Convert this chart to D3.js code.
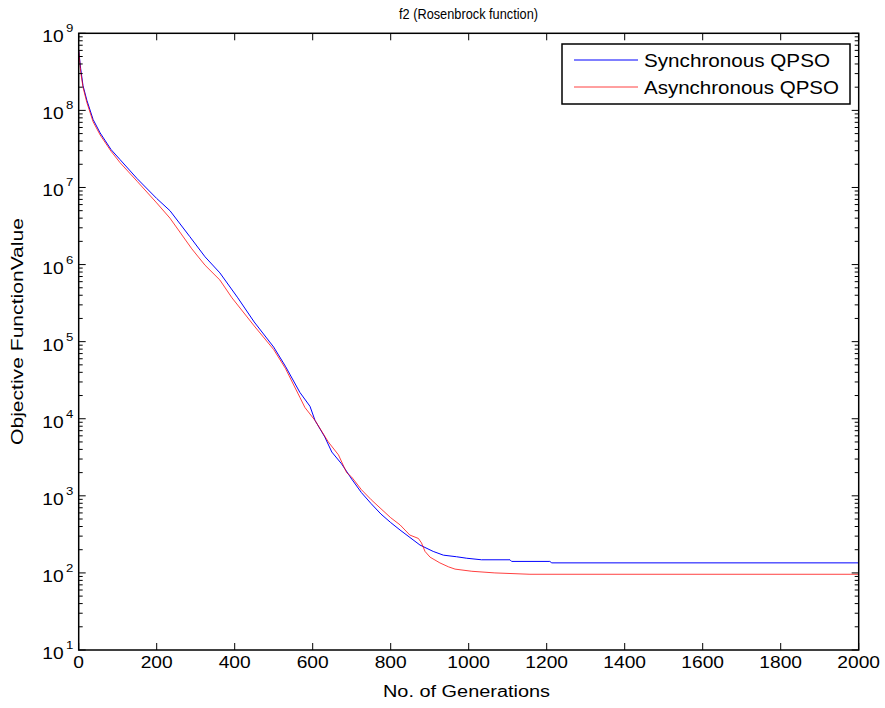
<!DOCTYPE html>
<html>
<head>
<meta charset="utf-8">
<script src="https://cdn.jsdelivr.net/npm/d3@7"></script>
<style>
  html, body { margin: 0; padding: 0; background: #fff; }
  svg { display: block; font-family: "Liberation Sans", Arial, sans-serif; }
</style>
</head>
<body>
<svg id="chart" width="885" height="708"></svg>
<script>
// Best objective value found so far, per generation (log-scale y)
const syncGen = [0, 5, 11, 21, 37, 55, 83, 106, 150, 200, 234, 285, 324, 362, 408, 450, 500, 530, 567, 593, 606, 631, 649, 674, 700, 725, 750, 775, 800, 824, 875, 909, 935, 969, 995, 1033, 1106, 1110, 1208, 1213, 2000];
const syncVal = [6.0e8, 3.5e8, 2.1e8, 1.35e8, 7.6e7, 5.1e7, 3.1e7, 2.3e7, 1.3e7, 7.2e6, 5.0e6, 2.3e6, 1.26e6, 7.8e5, 3.7e5, 1.8e5, 8.5e4, 4.8e4, 2.2e4, 1.45e4, 9.5e3, 5.8e3, 3.7e3, 2.6e3, 1.65e3, 1.1e3, 790, 580, 450, 360, 230, 190, 170, 162, 155, 148, 148, 141, 141, 135, 135];

const asyncGen = [0, 5, 11, 21, 37, 55, 83, 106, 150, 200, 234, 290, 324, 362, 393, 450, 500, 530, 567, 580, 606, 640, 666, 687, 700, 725, 750, 775, 800, 824, 849, 871, 879, 888, 901, 926, 948, 965, 1008, 1067, 1157, 2000];
const asyncVal = [6.0e8, 3.2e8, 2.0e8, 1.26e8, 7.1e7, 4.8e7, 2.95e7, 2.1e7, 1.2e7, 6.3e6, 4.0e6, 1.6e6, 9.8e5, 6.3e5, 3.7e5, 1.6e5, 7.9e4, 4.5e4, 1.9e4, 1.4e4, 9.5e3, 5.0e3, 3.4e3, 2.0e3, 1.75e3, 1.2e3, 890, 680, 520, 420, 310, 280, 245, 190, 160, 135, 120, 112, 105, 100, 96, 96];

const seriesNames = ["Synchronous QPSO", "Asynchronous QPSO"];
const seriesColors = ["#0000ff", "#ff0000"];

const xTicks = [0, 200, 400, 600, 800, 1000, 1200, 1400, 1600, 1800, 2000];
const yExponents = [1, 2, 3, 4, 5, 6, 7, 8, 9];

const titleText = "f2 (Rosenbrock function)";
const xLabelText = "No. of Generations";
const yLabelText = "Objective FunctionValue";

const svg = d3.select("#chart");
const plotLeft = 78.7, plotRight = 858.7, plotTop = 33.3, plotBottom = 650;
const sx = 1.2; // horizontal glyph stretch

const x = d3.scaleLinear().domain([0, 2000]).range([plotLeft, plotRight]);
const y = d3.scaleLog().domain([10, 1e9]).range([plotBottom, plotTop]);

// data lines
const line = d3.line().x(d => x(d[0])).y(d => y(d[1]));
const series = [
  d3.zip(syncGen, syncVal),
  d3.zip(asyncGen, asyncVal)
];
svg.append("g").selectAll("path").data(series).join("path")
  .attr("d", line)
  .attr("fill", "none")
  .attr("stroke", (d, i) => seriesColors[i])
  .attr("stroke-opacity", (d, i) => i === 1 ? 0.75 : 1)
  .attr("stroke-width", 1);

// ticks
const tickG = svg.append("g").attr("stroke", "#000").attr("stroke-width", 1);
const majorLen = 7, minorLen = 4;
xTicks.forEach(t => {
  const px = x(t);
  tickG.append("line").attr("x1", px).attr("x2", px).attr("y1", plotBottom).attr("y2", plotBottom - majorLen);
  tickG.append("line").attr("x1", px).attr("x2", px).attr("y1", plotTop).attr("y2", plotTop + majorLen);
});
const yMajor = yExponents.map(e => Math.pow(10, e));
const yMinor = [];
yExponents.slice(0, -1).forEach(e => { for (let k = 2; k <= 9; k++) yMinor.push(k * Math.pow(10, e)); });
yMajor.forEach(v => {
  const py = y(v);
  tickG.append("line").attr("x1", plotLeft).attr("x2", plotLeft + majorLen).attr("y1", py).attr("y2", py);
  tickG.append("line").attr("x1", plotRight).attr("x2", plotRight - majorLen).attr("y1", py).attr("y2", py);
});
yMinor.forEach(v => {
  const py = y(v);
  tickG.append("line").attr("x1", plotLeft).attr("x2", plotLeft + minorLen).attr("y1", py).attr("y2", py);
  tickG.append("line").attr("x1", plotRight).attr("x2", plotRight - minorLen).attr("y1", py).attr("y2", py);
});

// axes box
svg.append("rect").attr("x", plotLeft).attr("y", plotTop)
  .attr("width", plotRight - plotLeft).attr("height", plotBottom - plotTop)
  .attr("fill", "none").attr("stroke", "#000").attr("stroke-width", 1.5);

// x tick labels
svg.append("g").selectAll("text").data(xTicks).join("text")
  .attr("transform", d => `translate(${x(d)},${plotBottom + 18}) scale(${sx},1)`)
  .attr("text-anchor", "middle")
  .attr("font-size", 16)
  .text(d => d);

// y tick labels: 10 with superscript exponent
const yl = svg.append("g");
yExponents.forEach(e => {
  const py = y(Math.pow(10, e));
  const g = yl.append("g").attr("transform", `translate(${plotLeft - 15},${py + 9}) scale(${sx},1)`);
  g.append("text").attr("text-anchor", "end").attr("font-size", 16).text("10");
  g.append("text").attr("x", 2).attr("y", -10).attr("font-size", 11).text(e);
});

// title
svg.append("text").attr("x", 399).attr("y", 19)
  .attr("font-size", 14).attr("textLength", 139).attr("lengthAdjust", "spacingAndGlyphs")
  .text(titleText);

// axis labels
svg.append("text").attr("x", 383).attr("y", 697)
  .attr("font-size", 16).attr("textLength", 167).attr("lengthAdjust", "spacingAndGlyphs")
  .text(xLabelText);
svg.append("text").attr("transform", "translate(23,445) rotate(-90)")
  .attr("font-size", 16).attr("textLength", 227).attr("lengthAdjust", "spacingAndGlyphs")
  .text(yLabelText);

// legend
const lg = svg.append("g");
lg.append("rect").attr("x", 562).attr("y", 44).attr("width", 288).attr("height", 60)
  .attr("fill", "#fff").attr("stroke", "#000").attr("stroke-width", 1.5);
const legendY = [60, 87];
const legendLen = [186, 195];
seriesNames.forEach((name, i) => {
  lg.append("line").attr("x1", 574).attr("x2", 638).attr("y1", legendY[i]).attr("y2", legendY[i])
    .attr("stroke", seriesColors[i]).attr("stroke-opacity", i === 1 ? 0.75 : 1).attr("stroke-width", 1);
  lg.append("text").attr("x", 644).attr("y", legendY[i] + 7)
    .attr("font-size", 18).attr("textLength", legendLen[i]).attr("lengthAdjust", "spacingAndGlyphs")
    .text(name);
});
</script>
</body>
</html>
